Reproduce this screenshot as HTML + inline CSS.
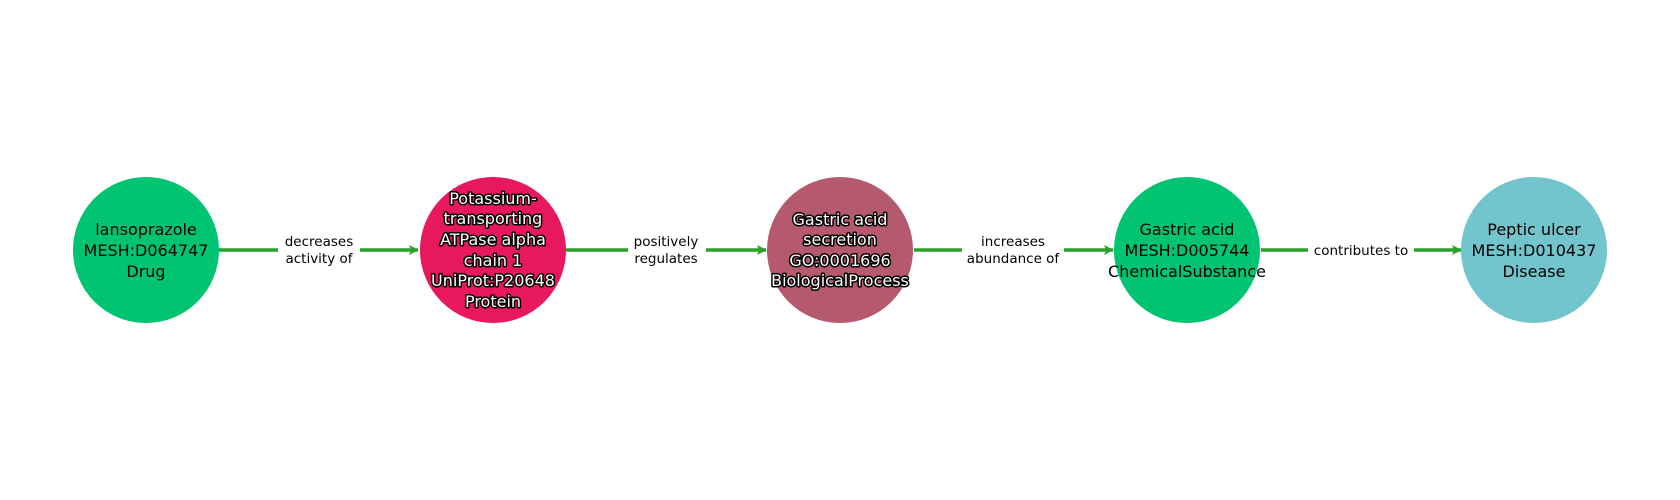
<!DOCTYPE html>
<html><head><meta charset="utf-8"><style>
html,body{margin:0;padding:0;background:#fff;width:1680px;height:500px;overflow:hidden}
svg text{font-family:"DejaVu Sans","Liberation Sans",sans-serif}
.n{font-size:16px;text-anchor:middle;fill:#000}
.w{font-size:16px;text-anchor:middle;fill:#fff;stroke:#000;stroke-width:3px;paint-order:stroke;stroke-linejoin:round}
.e{font-size:13.5px;text-anchor:middle;fill:#000}
</style></head><body>
<svg width="1680" height="500" viewBox="0 0 1680 500" xmlns="http://www.w3.org/2000/svg">
<defs><marker id="a" markerWidth="10" markerHeight="10" refX="9" refY="5" orient="auto" markerUnits="userSpaceOnUse"><path d="M0,0 L10,5 L0,10 L2,5 z" fill="#2ca02c"/></marker></defs>
<g stroke="#2ca02c" stroke-width="3.5" fill="none">
<line x1="204" y1="250" x2="418" y2="250" marker-end="url(#a)"/>
<line x1="566" y1="250" x2="766" y2="250" marker-end="url(#a)"/>
<line x1="914" y1="250" x2="1113" y2="250" marker-end="url(#a)"/>
<line x1="1261" y1="250" x2="1461" y2="250" marker-end="url(#a)"/>
</g>
<rect x="278" y="232" width="82" height="36" fill="#fff"/>
<rect x="628" y="232" width="78" height="36" fill="#fff"/>
<rect x="962" y="232" width="102" height="36" fill="#fff"/>
<rect x="1308" y="240" width="106" height="20" fill="#fff"/>
<text class="e" x="319" y="246">decreases</text><text class="e" x="319" y="263">activity of</text>
<text class="e" x="666" y="246">positively</text><text class="e" x="666" y="263">regulates</text>
<text class="e" x="1013" y="246">increases</text><text class="e" x="1013" y="263">abundance of</text>
<text class="e" x="1361" y="255">contributes to</text>
<circle cx="146" cy="250" r="73" fill="#00c472"/>
<circle cx="493" cy="250" r="73" fill="#e8185f"/>
<circle cx="840" cy="250" r="73" fill="#b55a6e"/>
<circle cx="1187" cy="250" r="73" fill="#00c472"/>
<circle cx="1534" cy="250" r="73" fill="#72c5cc"/>
<text class="n" x="146" y="235">lansoprazole</text><text class="n" x="146" y="256">MESH:D064747</text><text class="n" x="146" y="277">Drug</text>
<g class="w">
<text x="493" y="204">Potassium-</text><text x="493" y="224">transporting</text><text x="493" y="245">ATPase alpha</text><text x="493" y="266">chain 1</text><text x="493" y="286">UniProt:P20648</text><text x="493" y="307">Protein</text>
<text x="840" y="225">Gastric acid</text><text x="840" y="245">secretion</text><text x="840" y="266">GO:0001696</text><text x="840" y="286">BiologicalProcess</text>
</g>
<text class="n" x="1187" y="235">Gastric acid</text><text class="n" x="1187" y="256">MESH:D005744</text><text class="n" x="1187" y="277">ChemicalSubstance</text>
<text class="n" x="1534" y="235">Peptic ulcer</text><text class="n" x="1534" y="256">MESH:D010437</text><text class="n" x="1534" y="277">Disease</text>
</svg>
</body></html>
